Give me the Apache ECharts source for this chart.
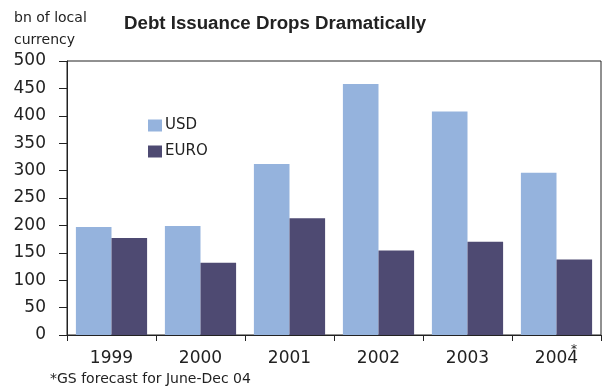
<!DOCTYPE html>
<html><head><meta charset="utf-8">
<script src="https://cdn.jsdelivr.net/npm/echarts@6/dist/echarts.min.js"></script>
<style>html,body{margin:0;padding:0;background:#fff}#c{width:606px;height:388px}</style>
</head><body><div id="c"></div>
<script>
const categories = ['1999', '2000', '2001', '2002', '2003', '2004'];
const usd = [197, 199, 312, 458, 408, 296];
const euro = [177, 132, 213, 154, 170, 138];
const yTicks = [0, 50, 100, 150, 200, 250, 300, 350, 400, 450, 500];

const chart = echarts.init(document.getElementById('c'), null, {renderer: 'canvas'});
const axisColor = '#222';
chart.setOption({
  animation: false,
  backgroundColor: '#fff',
  title: {
    text: 'Debt Issuance Drops Dramatically',
    left: 124, top: 14, padding: 0,
    textStyle: {fontFamily: 'Liberation Sans', fontWeight: 'bold', fontSize: 18.7, color: '#222'}
  },
  graphic: [
    {type: 'text', left: 14, top: 11, style: {text: 'bn of local', font: '14px "DejaVu Sans"', fill: '#222'}},
    {type: 'text', left: 14, top: 33, style: {text: 'currency', font: '14px "DejaVu Sans"', fill: '#222'}},
    {type: 'text', left: 50, top: 372, style: {text: '*GS forecast for June-Dec 04', font: '14px "DejaVu Sans"', fill: '#222'}},
    {type: 'text', left: 571, top: 344, style: {text: '*', font: '12px "DejaVu Sans"', fill: '#222'}}
  ],
  legend: {
    orient: 'vertical', left: 148, top: 118, padding: 0,
    itemWidth: 14, itemHeight: 12, itemGap: 11,
    icon: 'rect',
    textStyle: {fontFamily: 'DejaVu Sans', fontSize: 15, color: '#222', padding: [0, 0, 0, -2]},
    data: ['USD', 'EURO']
  },
  grid: {left: 67, right: 5, top: 61, bottom: 53, show: true, borderColor: axisColor, borderWidth: 1, containLabel: false},
  xAxis: {
    type: 'category', data: categories,
    axisLine: {lineStyle: {color: axisColor}},
    axisTick: {show: true, length: 6, lineStyle: {color: axisColor}},
    axisLabel: {fontFamily: 'DejaVu Sans', fontSize: 17, color: '#222', margin: 15}
  },
  yAxis: {
    type: 'value', min: yTicks[0], max: yTicks[yTicks.length - 1], interval: 50,
    axisLine: {show: true, lineStyle: {color: axisColor}},
    axisTick: {show: true, length: 8, lineStyle: {color: axisColor}},
    splitLine: {show: false},
    axisLabel: {fontFamily: 'DejaVu Sans', fontSize: 17, color: '#222', margin: 21}
  },
  series: [
    {name: 'USD', type: 'bar', data: usd, barGap: '0%', barCategoryGap: '20%', itemStyle: {color: '#95b3dd'}},
    {name: 'EURO', type: 'bar', data: euro, barGap: '0%', barCategoryGap: '20%', itemStyle: {color: '#4e4a72'}}
  ]
});
</script></body></html>
